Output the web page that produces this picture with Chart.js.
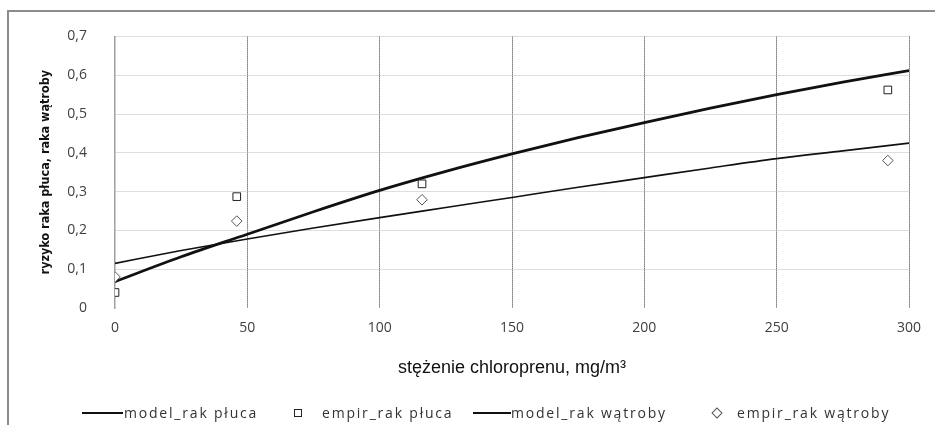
<!DOCTYPE html>
<html>
<head>
<meta charset="utf-8">
<script src="https://cdn.jsdelivr.net/npm/chart.js@4/dist/chart.umd.min.js"></script>
<style>
  html, body { margin: 0; padding: 0; background: #fff; }
  #wrap { position: relative; width: 935px; height: 425px; overflow: hidden; }
  #frame { position: absolute; left: 7px; top: 10px; width: 940px; height: 430px;
           border-left: 2px solid #8c8c8c; border-top: 2px solid #8c8c8c; box-sizing: border-box; }
  #c { position: absolute; left: 0; top: 0; }
  #legend { position: absolute; left: 0; top: 403px; width: 935px; height: 20px;
            font-family: "Open Sans", sans-serif; font-size: 14px; color: #333; letter-spacing: 1.8px; }
  .it { position: absolute; top: 0; white-space: nowrap; line-height: 20px; }
  .ln { position: absolute; background: #111; }
  .sq { position: absolute; width: 6px; height: 6px; border: 1px solid #222; background: #fff; }
  .dm { position: absolute; width: 6px; height: 6px; border: 1px solid #555; background: #fff; transform: rotate(45deg); }
</style>
</head>
<body>
<div id="wrap">
  <div id="frame"></div>
  <canvas id="c" width="935" height="425"></canvas>
  <div id="legend"></div>
</div>
<script>
// ---- data ----
const seriesNames = ["model_rak płuca", "empir_rak płuca", "model_rak wątroby", "empir_rak wątroby"];
const modelX = [0, 25, 50, 75, 100, 125, 150, 175, 200, 225, 250, 275, 300];
const modelLung = [0.068, 0.132, 0.190, 0.248, 0.303, 0.352, 0.397, 0.439, 0.478, 0.515, 0.550, 0.582, 0.612];
const modelLiver = [0.115, 0.148, 0.178, 0.206, 0.233, 0.259, 0.285, 0.311, 0.336, 0.361, 0.385, 0.405, 0.425];
const empirX = [0, 46, 116, 292];
const empirLung = [0.040, 0.287, 0.320, 0.562];
const empirLiver = [0.080, 0.224, 0.279, 0.380];
const xTicks = [0, 50, 100, 150, 200, 250, 300];
const yTicks = [0, 0.1, 0.2, 0.3, 0.4, 0.5, 0.6, 0.7];
const xTitle = "stężenie chloroprenu, mg/m³";
const yTitle = "ryzyko raka płuca, raka wątroby";

const pts = (xs, ys) => xs.map((x, i) => ({x: x, y: ys[i]}));

new Chart(document.getElementById('c'), {
  type: 'scatter',
  data: {
    datasets: [
      { label: seriesNames[0], data: pts(modelX, modelLung), showLine: true, pointRadius: 0,
        borderColor: '#111', borderWidth: 2.8, cubicInterpolationMode: 'monotone', order: 2 },
      { label: seriesNames[1], data: pts(empirX, empirLung), showLine: false, pointStyle: 'rect',
        pointRadius: 5.4, borderColor: '#222', backgroundColor: '#fff', pointBorderWidth: 1, order: 1 },
      { label: seriesNames[2], data: pts(modelX, modelLiver), showLine: true, pointRadius: 0,
        borderColor: '#111', borderWidth: 1.6, cubicInterpolationMode: 'monotone', order: 2 },
      { label: seriesNames[3], data: pts(empirX, empirLiver), showLine: false, pointStyle: 'rectRot',
        pointRadius: 5.3, borderColor: '#555', backgroundColor: '#fff', pointBorderWidth: 1, order: 1 }
    ]
  },
  options: {
    responsive: false,
    animation: false,
    devicePixelRatio: 1,
    layout: { padding: { left: 0, top: 28, right: 26, bottom: 0 } },
    plugins: { legend: { display: false }, tooltip: { enabled: false } },
    scales: {
      x: {
        type: 'linear', min: 0, max: 300,
        afterBuildTicks: s => { s.ticks = xTicks.map(v => ({value: v})); },
        afterFit: s => { s.height = 117; },
        ticks: { padding: 12, color: '#404040', font: { family: 'Open Sans', size: 14 },
                 callback: v => String(v) },
        grid: { drawTicks: false, lineWidth: 1,
                color: ctx => (ctx.tick && ctx.tick.value === 0) ? 'rgba(0,0,0,0)' : '#333333' },
        border: { display: false, dash: [1, 1] },
        title: { display: true, text: xTitle, color: '#111',
                 font: { family: 'Liberation Sans', size: 18 }, padding: { top: 0, bottom: 46 } }
      },
      y: {
        type: 'linear', min: 0, max: 0.7,
        afterBuildTicks: s => { s.ticks = yTicks.map(v => ({value: v})); },
        afterFit: s => { s.width = 115; },
        ticks: { padding: 28, color: '#404040', font: { family: 'Open Sans', size: 14 },
                 callback: v => (Math.round(v * 10) / 10).toString().replace('.', ',') },
        grid: { drawTicks: false, lineWidth: 1,
                color: ctx => (ctx.tick && ctx.tick.value === 0) ? 'rgba(0,0,0,0)' : '#bdbdbd' },
        border: { display: true, color: '#a0a0a0', width: 1.5, dash: [1, 1] },
        title: { display: true, text: yTitle, color: '#111',
                 font: { family: "'DejaVu Sans Condensed', 'Liberation Sans', sans-serif", size: 12.5, weight: 'bold' },
                 padding: { top: 38, bottom: 0 } }
      }
    }
  }
});

// ---- legend (HTML, from series names) ----
const lg = document.getElementById('legend');
const legendItems = [
  { kind: 'line', w: 2.8, mx: 82, mw: 41, tx: 124 },
  { kind: 'sq', mx: 294, tx: 322 },
  { kind: 'line', w: 1.6, mx: 473, mw: 38, tx: 511 },
  { kind: 'dm', mx: 713, tx: 737 }
];
legendItems.forEach((it, i) => {
  if (it.kind === 'line') {
    const d = document.createElement('div'); d.className = 'ln';
    d.style.left = it.mx + 'px'; d.style.width = it.mw + 'px';
    d.style.height = it.w + 'px'; d.style.top = (10 - it.w / 2) + 'px';
    lg.appendChild(d);
  } else {
    const d = document.createElement('div'); d.className = it.kind;
    d.style.left = it.mx + 'px'; d.style.top = '6px';
    lg.appendChild(d);
  }
  const t = document.createElement('div'); t.className = 'it';
  t.style.left = it.tx + 'px'; t.textContent = seriesNames[i];
  lg.appendChild(t);
});
</script>
</body>
</html>
